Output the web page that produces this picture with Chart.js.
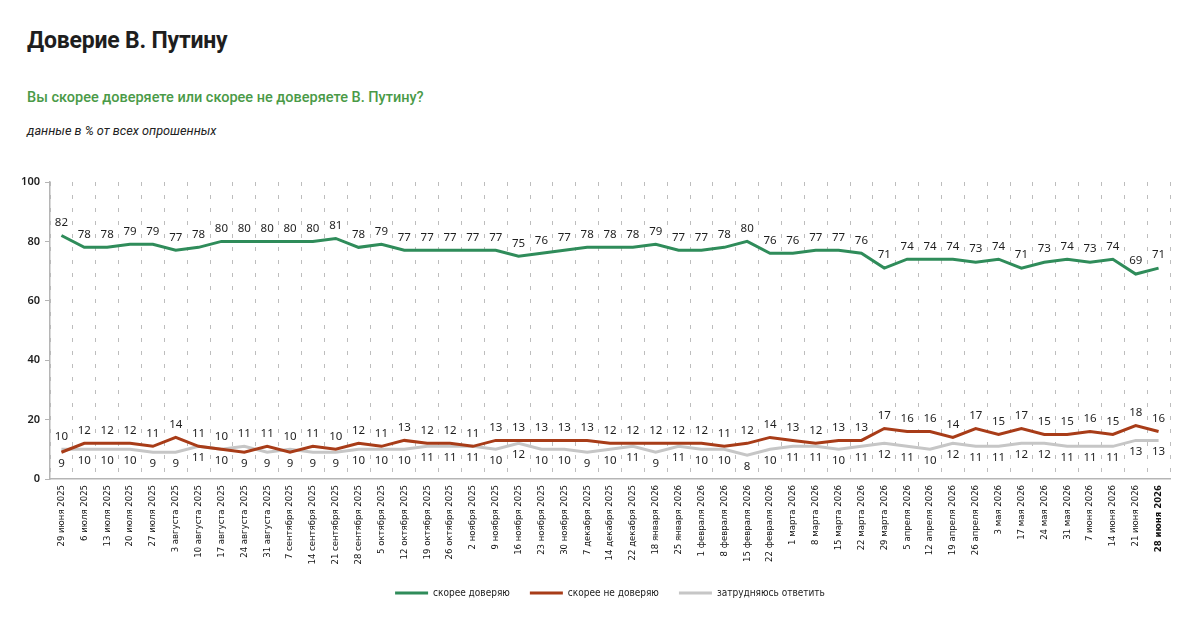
<!DOCTYPE html>
<html>
<head>
<meta charset="utf-8">
<script src="https://cdn.jsdelivr.net/npm/chart.js@4.4.1/dist/chart.umd.min.js"></script>
<style>
  html, body { margin: 0; padding: 0; background: #fff; }
  body { width: 1200px; height: 630px; position: relative; overflow: hidden; font-family: Roboto, "Noto Sans", sans-serif; }
  #title { position: absolute; left: 27px; top: 27px; font-size: 23px; font-weight: 700; color: #1e1e1e; letter-spacing: -0.2px; }
  #subtitle { position: absolute; left: 27px; top: 89px; font-size: 14.5px; font-weight: 500; color: #4a9a47; }
  #note { position: absolute; left: 27px; top: 123px; font-size: 12.7px; font-style: italic; color: #222; }
  #wrap { position: absolute; left: 0; top: 150px; width: 1200px; height: 480px; }
</style>
</head>
<body>
<div id="title">Доверие В. Путину</div>
<div id="subtitle">Вы скорее доверяете или скорее не доверяете В. Путину?</div>
<div id="note">данные в % от всех опрошенных</div>
<div id="wrap"><canvas id="c" width="1200" height="480"></canvas></div>
<script>
const categories = [
  "29 июня 2025","6 июля 2025","13 июля 2025","20 июля 2025","27 июля 2025",
  "3 августа 2025","10 августа 2025","17 августа 2025","24 августа 2025","31 августа 2025",
  "7 сентября 2025","14 сентября 2025","21 сентября 2025","28 сентября 2025","5 октября 2025",
  "12 октября 2025","19 октября 2025","26 октября 2025","2 ноября 2025","9 ноября 2025",
  "16 ноября 2025","23 ноября 2025","30 ноября 2025","7 декабря 2025","14 декабря 2025",
  "22 декабря 2025","18 января 2026","25 января 2026","1 февраля 2026","8 февраля 2026",
  "15 февраля 2026","22 февраля 2026","1 марта 2026","8 марта 2026","15 марта 2026",
  "22 марта 2026","29 марта 2026","5 апреля 2026","12 апреля 2026","19 апреля 2026",
  "26 апреля 2026","3 мая 2026","17 мая 2026","24 мая 2026","31 мая 2026",
  "7 июня 2026","14 июня 2026","21 июня 2026","28 июня 2026"
];
const trust = [82,78,78,79,79,77,78,80,80,80,80,80,81,78,79,77,77,77,77,77,75,76,77,78,78,78,79,77,77,78,80,76,76,77,77,76,71,74,74,74,73,74,71,73,74,73,74,69,71];
const distrust = [9,12,12,12,11,14,11,10,9,11,9,11,10,12,11,13,12,12,11,13,13,13,13,13,12,12,12,12,12,11,12,14,13,12,13,13,17,16,16,14,17,15,17,15,15,16,15,18,16];
const undecided = [10,10,10,10,9,9,11,10,11,9,10,9,9,10,10,10,11,11,11,10,12,10,10,9,10,11,9,11,10,10,8,10,11,11,10,11,12,11,10,12,11,11,12,12,11,11,11,13,13];
const yTicks = [0,20,40,60,80,100];
const seriesNames = ["скорее доверяю","скорее не доверяю","затрудняюсь ответить"];
const seriesColors = ["#2f8c5a","#a83c18","#c6c6c6"];

const valueLabels = {
  id: 'valueLabels',
  afterDatasetsDraw(chart) {
    const ctx = chart.ctx;
    ctx.save();
    ctx.font = '11.5px "Noto Sans", sans-serif';
    ctx.fillStyle = '#1e1e1e';
    ctx.textAlign = 'center';
    ctx.textBaseline = 'middle';
    const m0 = chart.getDatasetMeta(0).data;
    const m1 = chart.getDatasetMeta(1).data;
    const m2 = chart.getDatasetMeta(2).data;
    for (let i = 0; i < categories.length; i++) {
      ctx.fillText(String(trust[i]), m0[i].x, m0[i].y - 13);
      const redUp = distrust[i] >= undecided[i];
      ctx.fillText(String(distrust[i]), m1[i].x, m1[i].y + (redUp ? -13 : 11));
      ctx.fillText(String(undecided[i]), m2[i].x, m2[i].y + (redUp ? 11 : -13));
    }
    ctx.restore();
  }
};

const condensed = '"DejaVu Sans Condensed", "Liberation Sans Narrow", sans-serif';

new Chart(document.getElementById('c'), {
  type: 'line',
  data: {
    labels: categories,
    datasets: [
      { label: seriesNames[0], data: trust, borderColor: seriesColors[0], backgroundColor: seriesColors[0], borderWidth: 3, pointRadius: 0, tension: 0 },
      { label: seriesNames[1], data: distrust, borderColor: seriesColors[1], backgroundColor: seriesColors[1], borderWidth: 3, pointRadius: 0, tension: 0 },
      { label: seriesNames[2], data: undecided, borderColor: seriesColors[2], backgroundColor: seriesColors[2], borderWidth: 3, pointRadius: 0, tension: 0 }
    ]
  },
  options: {
    responsive: false,
    animation: false,
    layout: { padding: { top: 32, left: 17, right: 30, bottom: 22 } },
    plugins: {
      legend: {
        position: 'bottom',
        fullSize: false,
        labels: {
          boxWidth: 33, boxHeight: 0, padding: 20, color: '#1a1a1a',
          font: { family: condensed, size: 10 }
        }
      },
      tooltip: { enabled: false },
      title: { display: false }
    },
    scales: {
      x: {
        offset: true,
        grid: { offset: true, display: true, drawOnChartArea: true, drawTicks: false, color: '#bdbdbd', lineWidth: 1 },
        border: { display: true, color: '#b5b5b5', width: 1.5, dash: [4, 9] },
        ticks: {
          autoSkip: false, maxRotation: 90, minRotation: 90, padding: 6, color: '#111',
          font: (c) => ({ family: condensed, size: 9.5, weight: c.index === categories.length - 1 ? 'bold' : 'normal' })
        },
        afterFit: (s) => { s.height = 89; }
      },
      y: {
        min: 0, max: 100,
        afterBuildTicks: (s) => { s.ticks = yTicks.map(v => ({ value: v })); },
        grid: { drawOnChartArea: false, drawTicks: true, tickLength: 5, color: '#b5b5b5', tickColor: '#b5b5b5' },
        border: { display: true, color: '#b5b5b5', width: 1.5 },
        ticks: { padding: 5, color: '#1e1e1e', font: { family: '"Noto Sans", sans-serif', size: 11, weight: '600' } },
        afterFit: (s) => { s.width = 33; }
      }
    }
  },
  plugins: [valueLabels]
});
</script>
</body>
</html>
